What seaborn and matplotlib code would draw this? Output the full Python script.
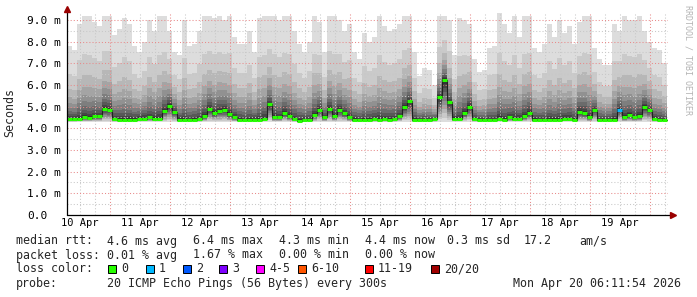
import numpy as np
import pandas as pd
import matplotlib
matplotlib.use("Agg")
import matplotlib.pyplot as plt
import seaborn as sns
from matplotlib.patches import Rectangle
from matplotlib.transforms import blended_transform_factory

# ---------------- data ----------------
start_hour = 6.8      # first sample: 10 Apr 06:48
step_hours = 2.0      # one value per 2 hours

smoke_top = [7.8, 7.6, 8.8, 9.2, 9.2, 8.9, 8.7, 9.2, 9.2, 8.3,
             8.6, 9.1, 8.8, 7.8, 7.5, 8.0, 9.0, 8.5, 9.2, 9.2,
             8.5, 7.5, 7.4, 9.0, 7.8, 7.9, 8.5, 9.2, 9.2, 9.1,
             9.2, 9.0, 9.2, 8.2, 7.9, 7.9, 8.5, 7.5, 9.1, 9.2,
             9.2, 9.2, 9.0, 9.2, 9.2, 8.5, 7.9, 7.5, 8.0, 9.2,
             8.9, 7.5, 9.2, 9.2, 9.0, 8.5, 8.8, 7.5, 7.2, 8.4,
             8.0, 8.2, 9.2, 8.7, 8.5, 8.6, 8.8, 9.2, 9.2, 7.5,
             6.4, 6.8, 6.7, 6.0, 9.2, 9.2, 9.0, 7.4, 9.1, 9.0,
             8.8, 7.2, 6.6, 6.7, 7.7, 7.8, 9.3, 8.8, 8.4, 9.2,
             8.2, 9.2, 9.2, 7.7, 7.5, 7.9, 8.8, 8.2, 9.0, 8.4,
             8.7, 7.9, 8.9, 9.2, 9.2, 7.7, 7.2, 6.9, 6.9, 8.8,
             8.5, 9.2, 9.0, 9.0, 9.2, 8.5, 8.0, 7.7, 7.6, 7.0]

median_rtt = [4.41, 4.42, 4.45, 4.50, 4.47, 4.55, 4.55, 4.90, 4.85, 4.42,
              4.40, 4.38, 4.38, 4.40, 4.45, 4.45, 4.50, 4.45, 4.45, 4.80,
              5.05, 4.75, 4.40, 4.38, 4.38, 4.40, 4.42, 4.55, 4.90, 4.70,
              4.80, 4.85, 4.65, 4.50, 4.40, 4.38, 4.38, 4.38, 4.38, 4.45,
              5.10, 4.50, 4.50, 4.70, 4.55, 4.42, 4.35, 4.38, 4.38, 4.60,
              4.85, 4.50, 4.90, 4.55, 4.85, 4.70, 4.50, 4.40, 4.38, 4.38,
              4.40, 4.42, 4.40, 4.42, 4.40, 4.42, 4.55, 5.00, 5.25, 4.40,
              4.38, 4.38, 4.38, 4.42, 5.45, 6.25, 5.20, 4.45, 4.45, 4.70,
              5.00, 4.42, 4.38, 4.38, 4.38, 4.38, 4.45, 4.40, 4.50, 4.45,
              4.45, 4.55, 4.70, 4.40, 4.38, 4.38, 4.38, 4.38, 4.38, 4.45,
              4.45, 4.40, 4.75, 4.70, 4.50, 4.85, 4.38, 4.38, 4.38, 4.40,
              4.85, 4.50, 4.60, 4.50, 4.55, 5.00, 4.85, 4.42, 4.38, 4.38]

smoke_low = [4.3] * 120
lost_pings = [0] * 110 + [1] + [0] * 9

day_labels = ["10 Apr", "11 Apr", "12 Apr", "13 Apr", "14 Apr",
              "15 Apr", "16 Apr", "17 Apr", "18 Apr", "19 Apr"]
y_labels = ["0.0", "1.0 m", "2.0 m", "3.0 m", "4.0 m", "5.0 m",
            "6.0 m", "7.0 m", "8.0 m", "9.0 m"]

loss_names = ["0", "1", "2", "3", "4-5", "6-10", "11-19", "20/20"]
loss_colors = ["#26ff00", "#00b8ff", "#0059ff", "#7e00ff",
               "#ff00ff", "#ff5500", "#ff0000", "#a00000"]

# ---------------- frame ----------------
n = len(median_rtt)
df = pd.DataFrame({
    "t": (start_hour + step_hours * np.arange(n)) / 24.0,
    "med": median_rtt, "top": smoke_top, "low": smoke_low, "loss": lost_pings,
})
dt = step_hours / 24.0
loss_idx = {0: 0, 1: 1, 2: 2, 3: 3}
df["color"] = [loss_colors[loss_idx.get(v, 4)] for v in df["loss"]]

edges = np.append(df["t"].values, df["t"].values[-1] + dt)
def ext(a):
    a = np.asarray(a, float)
    return np.append(a, a[-1])

W, H = 697, 297
sns.set_theme(style="white")
plt.rcParams['font.family'] = ['DejaVu Sans Mono', 'DejaVu Sans']
fig = plt.figure(figsize=(W / 100, H / 100), dpi=100, facecolor="white")
ax = fig.add_axes([67 / W, 82 / H, 601 / W, 202 / H])
ax.set_facecolor("white")
ax.set_xlim(17 / 60, 618 / 60)
ax.set_ylim(0, 202 / 21.67)

# smoke bands (outer light -> inner dark)
up_frac = [1.0, 0.62, 0.42, 0.30, 0.22, 0.16, 0.11, 0.07, 0.04, 0.02]
lo_frac = [1.0, 0.9, 0.8, 0.7, 0.6, 0.5, 0.4, 0.3, 0.2, 0.1]
greys = [221, 202, 183, 164, 145, 126, 107, 88, 69, 50]
med = df["med"].values
top = df["top"].values
low = df["low"].values
for fu, fl, g in zip(up_frac, lo_frac, greys):
    upper = med + (top - med) * fu
    lower = med - (med - low) * fl
    c = "#%02x%02x%02x" % (g, g, g)
    ax.fill_between(edges, ext(lower), ext(upper), step="post", color=c,
                    lw=0, zorder=1)

# grid on top of smoke
for d in np.arange(0.5, 10.5, 0.25):
    if abs(d - round(d)) < 1e-9:
        continue
for h in np.arange(6, 250, 6):
    x = h / 24.0
    is_day = (h % 24 == 0)
    ax.axvline(x, color="#e88a8a" if is_day else "#c8c8c8", lw=0.75,
               ls=(0, (1, 2)), zorder=2)
for yv in np.arange(0.5, 9.5, 0.5):
    is_major = abs(yv - round(yv)) < 1e-9
    ax.axhline(yv, color="#e88a8a" if is_major else "#c8c8c8", lw=0.75,
               ls=(0, (1, 2)), zorder=2)

# median line
step_df = pd.DataFrame({"t": edges, "med": ext(med)})
sns.lineplot(data=step_df, x="t", y="med", drawstyle="steps-post",
             color="#202020", lw=0.8, ax=ax, zorder=3)
ax.hlines(df["med"], df["t"], df["t"] + dt, colors=df["color"], lw=2.2,
          zorder=4)

# axes & ticks
for s in ax.spines.values():
    s.set_visible(False)
ax.set_xlabel("")
ax.set_ylabel("")
ax.set_xticks(np.arange(10) + 0.5)
ax.set_xticklabels(day_labels)
ax.set_yticks(np.arange(10))
ax.set_yticklabels(y_labels)
ax.tick_params(axis="x", length=0, pad=2.5, labelsize=7.5, colors="black")
ax.tick_params(axis="y", length=0, pad=28.5, labelsize=8.0, colors="black")
for lab in ax.get_yticklabels():
    lab.set_horizontalalignment("left")

tr = ax.transAxes
ax.plot([0, 0], [0, 1.015], color="black", lw=0.9, transform=tr,
        clip_on=False, zorder=5)
ax.plot([0, 1.006], [0, 0], color="black", lw=0.9, transform=tr,
        clip_on=False, zorder=5)
ax.plot([0], [1.02], marker="^", ms=4, color="#9a0000", transform=tr,
        clip_on=False, zorder=6)
ax.plot([1.008], [0], marker=">", ms=4, color="#9a0000", transform=tr,
        clip_on=False, zorder=6)

# side texts
fig.text(10 / W, 1 - 113 / H, "Seconds", rotation=90, ha="center",
         va="center", fontsize=8.4)
fig.text(688 / W, 1 - 60 / H, "RRDTOOL / TOBI OETIKER", rotation=270,
         ha="center", va="center", fontsize=6.0, color="#b4b4b4")

# legend rows
fs = 8.4
def put(xp, yp, s, **kw):
    fig.text(xp / W, 1 - yp / H, s, ha="left", va="center", fontsize=fs, **kw)

row1 = [(16, "median rtt:"), (107, "4.6 ms avg"), (193, "6.4 ms max"),
        (279, "4.3 ms min"), (365, "4.4 ms now"), (447, "0.3 ms sd"),
        (524, "17.2"), (579, "am/s")]
row2 = [(16, "packet loss:"), (107, "0.01 % avg"), (193, "1.67 % max"),
        (279, "0.00 % min"), (365, "0.00 % now")]
for xp, s in row1:
    put(xp, 241, s)
for xp, s in row2:
    put(xp, 255, s)
put(16, 269, "loss color:")
box_x = [108, 146, 183, 219, 256, 298, 365, 431]
for bx, name, col in zip(box_x, loss_names, loss_colors):
    fig.patches.append(Rectangle((bx / W, 1 - 273 / H), 8 / W, 8 / H,
                                 transform=fig.transFigure, facecolor=col,
                                 edgecolor="black", lw=0.7))
    put(bx + 13, 269, name)
put(16, 283, "probe:")
put(107, 283, "20 ICMP Echo Pings (56 Bytes) every 300s")
put(513, 283, "Mon Apr 20 06:11:54 2026")

fig.savefig("out.png", dpi=100, facecolor="white")
